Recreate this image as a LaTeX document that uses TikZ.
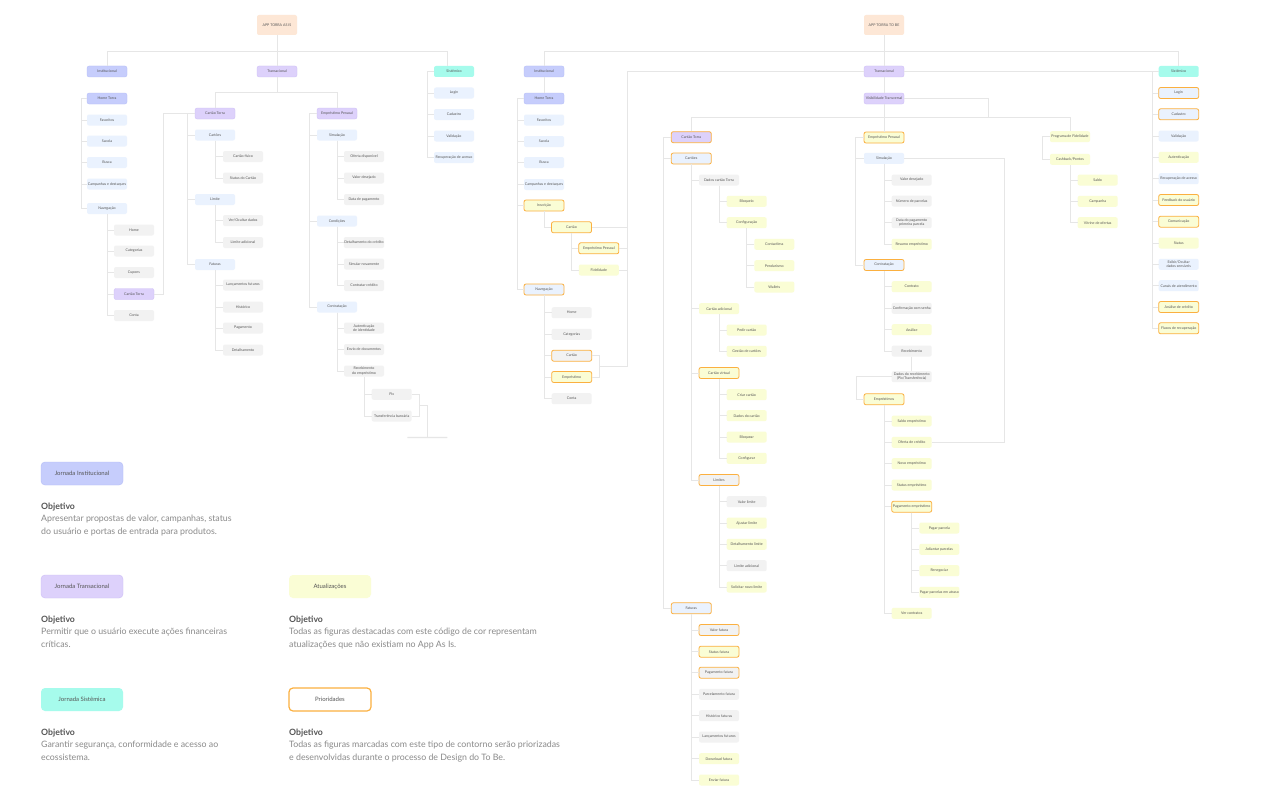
\documentclass[tikz,border=0pt]{standalone}
\usepackage{fontspec}
\setmainfont{Lato}
\definecolor{instblue}{HTML}{C6CDFC}
\definecolor{instedge}{HTML}{B4BDF7}
\definecolor{transpurple}{HTML}{DDD1FB}
\definecolor{transedge}{HTML}{CDBDF6}
\definecolor{sistteal}{HTML}{A6FBEC}
\definecolor{subblue}{HTML}{EAF2FE}
\definecolor{leafgray}{HTML}{F2F2F2}
\definecolor{updyellow}{HTML}{FAFDD5}
\definecolor{prioorange}{HTML}{FBB040}
\definecolor{peach}{HTML}{FDE7D6}
\definecolor{linkgray}{HTML}{E6E6E6}
\definecolor{nodetext}{HTML}{555555}
\definecolor{titlegray}{HTML}{555555}
\definecolor{bodygray}{HTML}{8A8A8A}

\begin{document}
\begin{tikzpicture}[x=1pt, y=-1pt,
  box/.style={rounded corners=2pt, minimum width=40pt, minimum height=11pt, inner sep=0.5pt,
    align=center, text=nodetext, font=\fontsize{3.6}{4.2}\selectfont},
  inst/.style={box, fill=instblue, draw=instedge, line width=0.3pt},
  trans/.style={box, fill=transpurple, draw=transedge, line width=0.3pt},
  sist/.style={box, fill=sistteal},
  sub/.style={box, fill=subblue},
  leaf/.style={box, fill=leafgray},
  upd/.style={box, fill=updyellow},
  prio/.style={draw=prioorange, line width=0.8pt},
  transp/.style={trans, prio},
  subp/.style={sub, prio},
  leafp/.style={leaf, prio},
  updp/.style={upd, prio},
  hdr/.style={box, fill=peach, minimum height=20pt},
  link/.style={draw=linkgray, line width=0.5pt},
  tag/.style={rounded corners=4pt, minimum width=82pt, minimum height=23pt, text=nodetext,
    font=\fontsize{6}{7}\selectfont},
  objtitle/.style={anchor=north west, inner sep=0pt, text=titlegray,
    font=\bfseries\fontsize{8.7}{10}\selectfont},
  objtext/.style={anchor=north west, inner sep=0pt, align=left, text=bodygray,
    font=\fontsize{8.8}{13}\selectfont},
]
\fill[white] (0,0) rectangle (1280,800);
\useasboundingbox (0,0) rectangle (1280,800);

% ---------------- AS IS ----------------
\node[hdr] (asis) at (277,25) {APP TORRA AS IS};
\node[inst] (iL) at (107,71.5) {Institucional};
\node[trans] (tL) at (277,71.5) {Transacional};
\node[sist] (sL) at (454,71.5) {Sistêmico};
\draw[link] (asis.south) -- (tL.north);
\draw[link] (iL.north) -- ++(0,-15) -| ([xshift=-7pt]sL.north);

% Institucional
\node[inst] (hL) at (107,98.5) {Home Torra};
\foreach \n/\y/\t in {favL/120/Favoritos, sacL/141/Sacola, busL/162.5/Busca,
    camL/184/Campanhas e destaques, navL/208.5/Navegação}{
  \node[sub] (\n) at (107,\y) {\t};
  \draw[link] (hL.west) -- ++(-6,0) |- (\n.west);
}
\foreach \n/\y/\s/\t in {homeL/230/leaf/Home, catL/251/leaf/Categorias, cupL/272.5/leaf/Cupons,
    navCtL/294/trans/Cartão Torra, contaL/315.5/leaf/Conta}{
  \node[\s] (\n) at (134,\y) {\t};
  \draw[link] (navL.south) |- (\n.west);
}

% Transacional
\draw[link] (tL.south) -- ++(0,15.5);
\node[trans] (ctL) at (215,113.5) {Cartão Torra};
\node[trans] (epL) at (337,113.5) {Empréstimo Pessoal};
\draw[link] (ctL.north) -- ++(0,-15.5) -| (epL.north);
\draw[link] (navCtL.east) -- ++(9,0) |- (ctL.west);
\foreach \n/\y/\t in {cartoesL/135/Cartões, limL/199.5/Limite, fatL/264.5/Faturas}{
  \node[sub] (\n) at (215,\y) {\t};
  \draw[link] (ctL.west) -- ++(-8,0) |- (\n.west);
}
\foreach \n/\y/\t in {cfL/156.5/Cartão físico, stL/178/Status do Cartão}{
  \node[leaf] (\n) at (243,\y) {\t};
  \draw[link] (cartoesL.south) |- (\n.west);
}
\foreach \n/\y/\t in {vodL/220.5/Ver{/}Ocultar dados, laL/242.5/Limite adicional}{
  \node[leaf] (\n) at (243,\y) {\t};
  \draw[link] (limL.south) |- (\n.west);
}
\foreach \n/\y/\t in {lfL/285/Lançamentos futuros, hiL/307/Histórico, pgL/328/Pagamento,
    dtL/350/Detalhamento}{
  \node[leaf] (\n) at (243,\y) {\t};
  \draw[link] (fatL.south) |- (\n.west);
}
\foreach \n/\y/\t in {simL/135/Simulação, conL/221/Condições, ctrL/307/Contratação}{
  \node[sub] (\n) at (337,\y) {\t};
  \draw[link] (epL.west) -- ++(-8,0) |- (\n.west);
}
\foreach \n/\y/\t in {odL/156.5/Oferta disponível, vdL/178/Valor desejado, dpL/199.5/Data de pagamento}{
  \node[leaf] (\n) at (364,\y) {\t};
  \draw[link] (simL.south) |- (\n.west);
}
\foreach \n/\y/\t in {dcL/242.5/Detalhamento do crédito, snL/264/Simular novamente,
    ccL/285.5/Contratar crédito}{
  \node[leaf] (\n) at (364,\y) {\t};
  \draw[link] (conL.south) |- (\n.west);
}
\foreach \n/\y/\t in {aiL/328/Autenticação\\de identidade, edL/349.5/Envio de documentos,
    reL/371/Recebimento\\do empréstimo}{
  \node[leaf] (\n) at (364,\y) {\t};
  \draw[link] (ctrL.south) |- (\n.west);
}
\foreach \n/\y/\t in {pixL/394.3/Pix, trL/416/Transferência bancária}{
  \node[leaf] (\n) at (391.7,\y) {\t};
  \draw[link] (reL.south) |- (\n.west);
}
\draw[link] (pixL.east) -- ++(7.5,0) |- (trL.east);
\coordinate (recJoin) at (419.2,405.2);
\node[leaf, minimum height=1.4pt, inner sep=0pt, rounded corners=0.5pt, fill=linkgray] (endL) at (427.3,437.5) {};
\draw[link] (recJoin) -| (endL.north);

% Sistemico
\foreach \n/\y/\t in {loL/93/Login, caL/114.5/Cadastro, vaL/136/Validação,
    raL/157.5/Recuperação de acesso}{
  \node[sub] (\n) at (454,\y) {\t};
  \draw[link] (sL.west) -- ++(-7,0) |- (\n.west);
}

% ---------------- TO BE ----------------
\node[hdr] (tobe) at (884,25) {APP TORRA TO BE};
\node[inst] (iR) at (544,71.5) {Institucional};
\node[trans] (tR) at (884,71.5) {Transacional};
\node[sist] (sR) at (1178.7,71.5) {Sistêmico};
\draw[link] (tobe.south) -- (tR.north);
\draw[link] (iR.north) -- ++(0,-15) -| (sR.north);
\draw[link] (tR.east) -- (sR.west);
\node[trans] (vtR) at (884,98.5) {Visibilidade Transversal};
\draw[link] (tR.south) -- (vtR.north);

% Institucional
\node[inst] (hR) at (544,98.5) {Home Torra};
\draw[link] (iR.south) -- (hR.north);
\foreach \n/\y/\s/\t in {favR/120/sub/Favoritos, sacR/141.5/sub/Sacola, busR/162.5/sub/Busca,
    camR/184.5/sub/Campanhas e destaques, insR/205.5/updp/Inscrição, navR/289.5/subp/Navegação}{
  \node[\s] (\n) at (544,\y) {\t};
  \draw[link] (hR.west) -- ++(-7,0) |- (\n.west);
}
\node[updp] (icR) at (571.5,227.3) {Cartão};
\draw[link] (insR.south) |- (icR.west);
\foreach \n/\y/\s/\t in {iepR/248.3/updp/Empréstimo Pessoal, ifR/270/upd/Fidelidade}{
  \node[\s] (\n) at (598.8,\y) {\t};
  \draw[link] (icR.south) |- (\n.west);
}
\foreach \n/\y/\s/\t in {nhR/312.7/leaf/Home, ncatR/334.3/leaf/Categorias, ncR/355.7/leafp/Cartão,
    neR/377/updp/Empréstimo, ncoR/398.7/leaf/Conta}{
  \node[\s] (\n) at (571.7,\y) {\t};
  \draw[link] (navR.south) |- (\n.west);
}
\draw[link] (ncR.east) -- ++(7.5,0) |- (neR.east);
\coordinate (busTop) at (627,71.5);
\coordinate (navJoin) at (599.3,366.3);
\draw[link] (tR.west) -- (busTop) |- (navJoin);
\draw[link] (icR.east) -- (icR.east -| busTop);
\draw[link] (iepR.east) -- (iepR.east -| busTop);
\draw[link] (ifR.east) -- (ifR.east -| busTop);

% Transacional
\node[transp] (ctR) at (691.3,137.2) {Cartão Torra};
\node[updp] (epR) at (884,137.5) {Empréstimo Pessoal};
\node[upd] (pfR) at (1070,136.7) {Programa de Fidelidade};
\draw[link] (vtR.south) -- (epR.north);
\draw[link] (ctR.north) -- ++(0,-14.5) -| (pfR.north);
\coordinate (vtTurn) at (988,117.2);
\draw[link] (vtR.east) -| (vtTurn);

% Cartao Torra
\foreach \n/\y/\t in {cartR/158.5/Cartões, fatR/608.3/Faturas}{
  \node[subp] (\n) at (691.3,\y) {\t};
  \draw[link] (ctR.west) -- ++(-8,0) |- (\n.west);
}
\foreach \n/\y/\s/\t in {dcR/180/leaf/Dados cartão Torra, caR/308.7/upd/Cartão adicional,
    cvR/373/updp/Cartão virtual, liR/480/leafp/Limites}{
  \node[\s] (\n) at (719,\y) {\t};
  \draw[link] (cartR.south) |- (\n.west);
}
\foreach \n/\y/\t in {blR/201.3/Bloqueio, cfR/222.7/Configuração}{
  \node[upd] (\n) at (746.7,\y) {\t};
  \draw[link] (dcR.south) |- (\n.west);
}
\foreach \n/\y/\t in {ctlR/244.3/Contactless, pdR/265.7/Pendurismo, waR/287/Wallets}{
  \node[upd] (\n) at (774.3,\y) {\t};
  \draw[link] (cfR.south) |- (\n.west);
}
\foreach \n/\y/\t in {pcR/330/Pedir cartão, gcR/351.3/Gestão de cartões}{
  \node[upd] (\n) at (746.7,\y) {\t};
  \draw[link] (caR.south) |- (\n.west);
}
\foreach \n/\y/\t in {crR/394.7/Criar cartão, ddR/415.7/Dados do cartão, bqR/437/Bloquear,
    cgR/458.3/Configurar}{
  \node[upd] (\n) at (746.7,\y) {\t};
  \draw[link] (cvR.south) |- (\n.west);
}
\foreach \n/\y/\s/\t in {vlR/501.7/leaf/Valor limite, alR/523/upd/Ajustar limite,
    dlR/544.3/upd/Detalhamento limite, ladR/565.7/leaf/Limite adicional,
    snlR/587/upd/Solicitar novo limite}{
  \node[\s] (\n) at (746.7,\y) {\t};
  \draw[link] (liR.south) |- (\n.west);
}
\foreach \n/\y/\s/\t in {vfR/630/leafp/Valor fatura, sfR/651.7/updp/Status fatura,
    pgfR/672.7/leafp/Pagamento fatura, paR/694.3/leaf/Parcelamento fatura,
    hfR/715.7/leaf/Histórico faturas, lfR/737/leaf/Lançamentos futuros,
    dfR/758.7/upd/Download fatura, efR/780/upd/Enviar fatura}{
  \node[\s] (\n) at (719,\y) {\t};
  \draw[link] (fatR.south) |- (\n.west);
}

% Emprestimo Pessoal
\node[sub] (simR) at (884,158.3) {Simulação};
\node[subp] (ctrR) at (884,265) {Contratação};
\draw[link] (epR.west) -- ++(-8,0) |- (simR.west);
\draw[link] (epR.west) -- ++(-8,0) |- (ctrR.west);
\foreach \n/\y/\s/\t in {vdR/180/leaf/Valor desejado, npR/201/leaf/Número de parcelas,
    dppR/222.7/leaf/Data do pagamento\\primeira parcela, rsR/244.3/upd/Resumo empréstimo}{
  \node[\s] (\n) at (911.7,\y) {\t};
  \draw[link] (simR.south) |- (\n.west);
}
\foreach \n/\y/\s/\t in {coR/286.7/upd/Contrato, csR/308.3/leaf/Confirmação com senha,
    anR/329.7/upd/Análise, rcR/351/leaf/Recebimento}{
  \node[\s] (\n) at (911.7,\y) {\t};
  \draw[link] (ctrR.south) |- (\n.west);
}
\node[leaf] (drR) at (911.7,376.7) {Dados do recebimento\\(Pix/Transferência)};
\draw[link] (rcR.south) -- (drR.north);
\node[updp] (emR) at (884,399.3) {Empréstimos};
\draw[link] (drR.west) -- ++(-35.7,0) |- (emR.west);
\foreach \n/\y/\s/\t in {seR/421/upd/Saldo empréstimo, ocR/442.3/upd/Oferta de crédito,
    nemR/463.7/upd/Novo empréstimo, semR/485/upd/Status empréstimo,
    pemR/506.7/updp/Pagamento empréstimo, vcR/613.3/upd/Ver contratos}{
  \node[\s] (\n) at (911.7,\y) {\t};
  \draw[link] (emR.south) |- (\n.west);
}
\draw[link] (simR.east) -- ++(100.3,0) |- (ocR.east);
\foreach \n/\y/\t in {ppR/528/Pagar parcela, apR/549.3/Adiantar parcelas, rnR/570.7/Renegociar,
    paaR/592.3/Pagar parcelas em atraso}{
  \node[upd] (\n) at (939.3,\y) {\t};
  \draw[link] (pemR.south) |- (\n.west);
}

% Programa de Fidelidade
\node[upd] (cbR) at (1070,159.3) {Cashback/Pontos};
\draw[link] (pfR.west) -- ++(-7.3,0) |- (cbR.west);
\foreach \n/\y/\t in {saR/180/Saldo, cpR/201.3/Campanha, voR/222.7/Vitrine de ofertas}{
  \node[upd] (\n) at (1097.7,\y) {\t};
  \draw[link] (cbR.south) |- (\n.west);
}

% Sistemico
\foreach \n/\y/\s/\t in {lgR/93/subp/Login, cdR/114.3/subp/Cadastro, vR/136/sub/Validação,
    auR/157.3/upd/Autenticação, racR/178.7/sub/Recuperação de acesso,
    fbR/200/updp/Feedback do usuário, cmR/221.7/updp/Comunicação, stR/243/upd/Status,
    eoR/264.3/sub/Exibir{/}Ocultar\\dados sensíveis, caaR/285.7/sub/Canais de atendimento,
    acR/307/updp/Análise de crédito, frR/328.3/updp/Fluxos de recuperação}{
  \node[\s] (\n) at (1178.7,\y) {\t};
  \draw[link] (sR.west) -- ++(-6.7,0) |- (\n.west);
}

% ---------------- Legend ----------------
\node[tag, fill=instblue, draw=instedge, line width=0.4pt] (lgInst) at (82,473.5) {Jornada Institucional};
\node[objtitle] (otInst) at (41,502.5) {Objetivo};
\node[objtext] (oxInst) at (41,514.5) {Apresentar propostas de valor, campanhas, status\\do usuário e portas de entrada para produtos.};

\node[tag, fill=transpurple, draw=transedge, line width=0.4pt] (lgTrans) at (82,586.5) {Jornada Transacional};
\node[objtitle] (otTrans) at (41,615.5) {Objetivo};
\node[objtext] (oxTrans) at (41,627.5) {Permitir que o usuário execute ações financeiras\\críticas.};

\node[tag, fill=sistteal] (lgSist) at (82,699.5) {Jornada Sistêmica};
\node[objtitle] (otSist) at (41,728.5) {Objetivo};
\node[objtext] (oxSist) at (41,740.5) {Garantir segurança, conformidade e acesso ao\\ecossistema.};

\node[tag, fill=updyellow] (lgUpd) at (330,586.5) {Atualizações};
\node[objtitle] (otUpd) at (289,615.5) {Objetivo};
\node[objtext] (oxUpd) at (289,627.5) {Todas as figuras destacadas com este código de cor representam\\atualizações que não existiam no App As Is.};

\node[tag, fill=white, draw=prioorange, line width=1.2pt] (lgPrio) at (330,699.5) {Prioridades};
\node[objtitle] (otPrio) at (289,728.5) {Objetivo};
\node[objtext] (oxPrio) at (289,740.5) {Todas as figuras marcadas com este tipo de contorno serão priorizadas\\e desenvolvidas durante o processo de Design do To Be.};
\end{tikzpicture}
\end{document}
